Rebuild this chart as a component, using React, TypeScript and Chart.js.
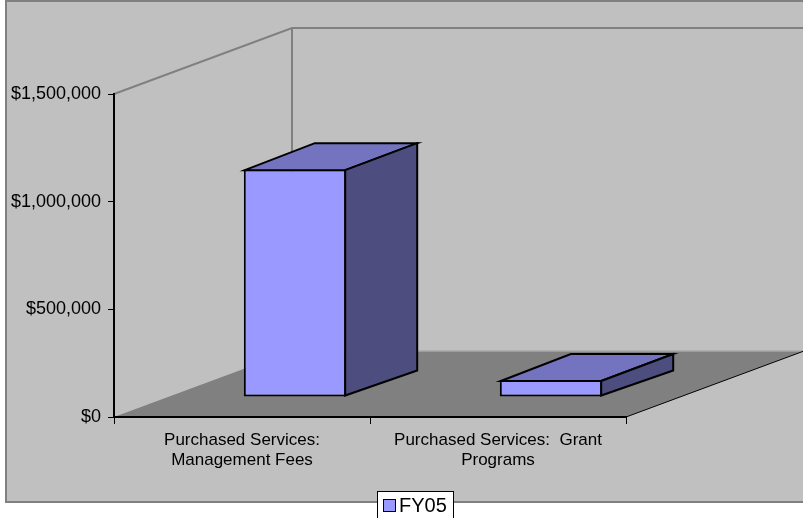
import React, { useEffect, useRef } from "react";
import { Chart, registerables } from "chart.js";

Chart.register(...registerables);

// ---- data ----
const categories: string[][] = [
  ["Purchased Services:", "Management Fees"],
  ["Purchased Services:  Grant", "Programs"],
];
const seriesLabel = "FY05";
const fy05Values: number[] = [1058000, 79000];
const yTickValues: number[] = [0, 500000, 1000000, 1500000];

// ---- style ----
const FONT = "'Liberation Sans', Arial, Helvetica, sans-serif";
const DEPTH = { x: 178, y: -66 };
const BAR_SHIFT = { x: 53, y: -20 };
const BAR_DEPTH = { x: 71, y: -26 };
const FRONT = "#9999ff";
const TOP = "#7373bf";
const SIDE = "#4d4d80";

function money(v: number): string {
  const s = Math.round(v).toString().replace(/\B(?=(\d{3})+(?!\d))/g, ",");
  return "$" + s;
}

const scenePlugin = {
  id: "scene3d",
  beforeDraw(chart: any) {
    const ctx = chart.ctx as CanvasRenderingContext2D;
    const { left, right, top, bottom } = chart.chartArea;
    const W = chart.width;
    const dx = DEPTH.x, dy = DEPTH.y;
    ctx.save();
    // outer background
    ctx.fillStyle = "#c0c0c0";
    ctx.fillRect(5, 0, W - 5, 503);
    ctx.strokeStyle = "#808080";
    ctx.lineWidth = 2;
    ctx.beginPath();
    ctx.moveTo(W + 5, 1);
    ctx.lineTo(6, 1);
    ctx.lineTo(6, 502);
    ctx.lineTo(W + 5, 502);
    ctx.stroke();

    // back wall
    ctx.fillStyle = "#c0c0c0";
    ctx.beginPath();
    ctx.moveTo(left + dx, top + dy);
    ctx.lineTo(W + 20, top + dy);
    ctx.lineTo(W + 20, bottom + dy);
    ctx.lineTo(left + dx, bottom + dy);
    ctx.closePath();
    ctx.fill();

    // floor
    ctx.fillStyle = "#808080";
    ctx.beginPath();
    ctx.moveTo(left, bottom);
    ctx.lineTo(right, bottom);
    ctx.lineTo(right + dx, bottom + dy);
    ctx.lineTo(left + dx, bottom + dy);
    ctx.closePath();
    ctx.fill();

    // back wall bottom edge (light)
    ctx.strokeStyle = "#a8a8a8";
    ctx.lineWidth = 1.5;
    ctx.beginPath();
    ctx.moveTo(left + dx, bottom + dy);
    ctx.lineTo(W + 20, bottom + dy);
    ctx.stroke();

    // wall edges
    ctx.strokeStyle = "#808080";
    ctx.lineWidth = 2;
    ctx.beginPath();
    ctx.moveTo(left, top);
    ctx.lineTo(left + dx, top + dy);
    ctx.lineTo(W + 20, top + dy);
    ctx.moveTo(left + dx, top + dy);
    ctx.lineTo(left + dx, bottom + dy);
    ctx.stroke();

    // floor right edge
    ctx.strokeStyle = "#000";
    ctx.lineWidth = 1;
    ctx.beginPath();
    ctx.moveTo(right, bottom);
    ctx.lineTo(right + dx, bottom + dy);
    ctx.stroke();
    ctx.restore();
  },
  beforeDatasetsDraw(chart: any) {
    const ctx = chart.ctx as CanvasRenderingContext2D;
    ctx.save();
    ctx.translate(BAR_SHIFT.x, BAR_SHIFT.y);
  },
  afterDatasetsDraw(chart: any) {
    const ctx = chart.ctx as CanvasRenderingContext2D;
    const dx = BAR_DEPTH.x, dy = BAR_DEPTH.y;
    chart.data.datasets.forEach((_ds: any, i: number) => {
      const meta = chart.getDatasetMeta(i);
      meta.data.forEach((el: any) => {
        const { x, y, base, width } = el.getProps(["x", "y", "base", "width"], true);
        const l = x - width / 2;
        const r = x + width / 2;
        const t = Math.min(y, base);
        const b = Math.max(y, base);
        ctx.lineWidth = 2;
        ctx.lineJoin = "miter";
        ctx.strokeStyle = "#000";
        // top face
        ctx.fillStyle = TOP;
        ctx.beginPath();
        ctx.moveTo(l + 1, t + 1);
        ctx.lineTo(l + dx, t + dy);
        ctx.lineTo(r + dx, t + dy);
        ctx.lineTo(r - 1, t + 1);
        ctx.closePath();
        ctx.fill();
        ctx.stroke();
        // side face
        ctx.fillStyle = SIDE;
        ctx.beginPath();
        ctx.moveTo(r - 1, t + 1);
        ctx.lineTo(r + dx, t + dy);
        ctx.lineTo(r + dx, b + dy);
        ctx.lineTo(r - 1, b - 1);
        ctx.closePath();
        ctx.fill();
        ctx.stroke();
      });
    });
    ctx.restore();
  },
  afterDraw(chart: any) {
    const ctx = chart.ctx as CanvasRenderingContext2D;
    const ds = chart.data.datasets[0];
    ctx.save();
    // legend box
    ctx.fillStyle = "#ffffff";
    ctx.fillRect(377, 491, 77, 40);
    ctx.strokeStyle = "#000";
    ctx.lineWidth = 1;
    ctx.strokeRect(377.5, 491.5, 76, 40);
    // swatch
    ctx.fillStyle = ds.backgroundColor;
    ctx.fillRect(383, 499, 13, 13);
    ctx.strokeRect(383.5, 499.5, 12, 12);
    // label
    ctx.fillStyle = "#000";
    ctx.font = `20px ${FONT}`;
    ctx.textBaseline = "alphabetic";
    ctx.textAlign = "left";
    ctx.fillText(ds.label, 399, 512);
    ctx.restore();
  },
};

export default function App() {
  const ref = useRef<HTMLCanvasElement | null>(null);
  useEffect(() => {
    if (!ref.current) return;
    const chart = new Chart(ref.current, {
      type: "bar",
      data: {
        labels: categories as any,
        datasets: [
          {
            label: seriesLabel,
            data: fy05Values,
            backgroundColor: FRONT,
            borderColor: "#000",
            borderWidth: 2,
            borderSkipped: false,
            barPercentage: 0.4,
            categoryPercentage: 1,
            clip: false as any,
          },
        ],
      },
      options: {
        animation: false,
        responsive: false,
        devicePixelRatio: 1,
        layout: { padding: { left: 0, top: 94, right: 177, bottom: 0 } },
        plugins: { legend: { display: false }, tooltip: { enabled: false } },
        scales: {
          x: {
            type: "category",
            offset: true,
            grid: {
              display: true,
              offset: true,
              drawOnChartArea: false,
              drawTicks: true,
              tickLength: 7,
              color: "#000",
              lineWidth: 1,
            },
            border: { display: true, color: "#000", width: 2 },
            ticks: {
              color: "#000",
              font: { family: FONT, size: 17, lineHeight: 1.18 },
              padding: 6,
              maxRotation: 0,
              minRotation: 0,
              autoSkip: false,
            },
            afterFit: (s: any) => {
              s.height = 101;
            },
          },
          y: {
            min: 0,
            max: 1500000,
            afterBuildTicks: (s: any) => {
              s.ticks = yTickValues.map((v) => ({ value: v }));
            },
            grid: {
              display: true,
              drawOnChartArea: false,
              drawTicks: true,
              tickLength: 6,
              color: "#000",
              lineWidth: 1,
            },
            border: { display: true, color: "#000", width: 2 },
            ticks: {
              color: "#000",
              font: { family: FONT, size: 18 },
              padding: 7,
              callback: (v: any) => money(Number(v)),
            },
            afterFit: (s: any) => {
              s.width = 114;
            },
          },
        },
      },
      plugins: [scenePlugin],
    });
    return () => chart.destroy();
  }, []);
  return (
    <div style={{ position: "fixed", left: 0, top: 0, width: 803, height: 518, overflow: "hidden", background: "#fff" }}>
      <canvas ref={ref} width={803} height={518} style={{ display: "block" }} />
    </div>
  );
}
